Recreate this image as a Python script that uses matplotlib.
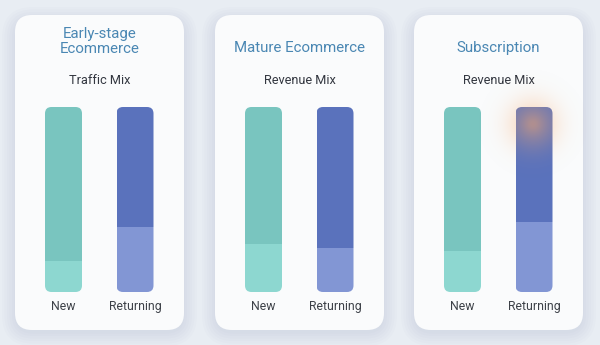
import numpy as np
import matplotlib
matplotlib.use("Agg")
import matplotlib.pyplot as plt
from matplotlib.patches import FancyBboxPatch

# ---- data ----
titles = ["Early-stage\nEcommerce", "Mature Ecommerce", "Subscription"]
subtitles = ["Traffic Mix", "Revenue Mix", "Revenue Mix"]
categories = ["New", "Returning"]
# share of the lighter (lower) segment in each bar, percent
new_lower = [17, 26, 22]
returning_lower = [35, 24, 38]
total = 100

plt.rcParams['font.family'] = ['Roboto', 'DejaVu Sans']

W, H = 600, 345
DPI = 100
fig = plt.figure(figsize=(W / DPI, H / DPI), dpi=DPI)
fig.patch.set_facecolor("#e8edf3")

bg = fig.add_axes([0, 0, 1, 1])
bg.set_xlim(0, W)
bg.set_ylim(H, 0)
bg.axis("off")
bg.patch.set_facecolor("#e8edf3")

card_left = [15, 215, 414]
card_w, card_top, card_h = 169, 15, 315

for cl in card_left:
    # shadow layers
    for i in range(6):
        g = 1.5 + i * 2.5
        sh = FancyBboxPatch((cl - g + 1, card_top - g + 6), card_w + 2 * g - 2, card_h + 2 * g - 4,
                            boxstyle="round,pad=0,rounding_size=%f" % (17 + g),
                            fc="#8896b0", ec="none", alpha=0.028, zorder=1)
        bg.add_patch(sh)
    card = FancyBboxPatch((cl, card_top), card_w, card_h,
                          boxstyle="round,pad=0,rounding_size=17",
                          fc="#fafbfc", ec="none", zorder=2)
    bg.add_patch(card)

title_color = "#4a87b3"
for i, cl in enumerate(card_left):
    cx = cl + card_w / 2
    if "\n" in titles[i]:
        bg.text(cx, 41.5, titles[i], ha="center", va="center", fontsize=10.8,
                color=title_color, linespacing=1.18, zorder=5)
    else:
        bg.text(cx, 48, titles[i], ha="center", va="center", fontsize=10.8,
                color=title_color, zorder=5)
    bg.text(cx, 80, subtitles[i], ha="center", va="center", fontsize=9.2,
            color="#333740", zorder=5)

top_colors = ["#79c5bf", "#5a72bc"]
low_colors = ["#8dd7d0", "#8296d4"]

bar_top_px, bar_bot_px = 107, 292
unit_px = 71.5
bar_w = 37 / unit_px
rs_px = 6.5

for i, cl in enumerate(card_left):
    ax = fig.add_axes([cl / W, (H - bar_bot_px) / H, card_w / W, (bar_bot_px - bar_top_px) / H])
    left_u = -(48.5 / unit_px)
    ax.set_xlim(left_u, left_u + card_w / unit_px)
    ax.set_ylim(0, total)
    ax.axis("off")
    ax.patch.set_alpha(0)
    lowers = [new_lower[i], returning_lower[i]]
    xs = np.arange(len(categories))
    px_per_y = (bar_bot_px - bar_top_px) / total
    aspect = (1 / px_per_y) / (1 / unit_px)
    for j, x in enumerate(xs):
        b1 = ax.bar(x, lowers[j], width=bar_w, color=low_colors[j], zorder=3)
        b2 = ax.bar(x, total - lowers[j], bottom=lowers[j], width=bar_w, color=top_colors[j], zorder=3)
        clip = FancyBboxPatch((x - bar_w / 2, 0), bar_w, total,
                              boxstyle="round,pad=0,rounding_size=%f" % (rs_px / unit_px),
                              mutation_aspect=aspect, fc="none", ec="none",
                              transform=ax.transData)
        ax.add_patch(clip)
        for p in list(b1) + list(b2):
            p.set_clip_path(clip)
        ax.text(x, -8, categories[j], ha="center", va="center", fontsize=8.8,
                color="#3d4148", transform=ax.transData, clip_on=False)

# orange glow highlight on subscription returning bar
ov = fig.add_axes([0, 0, 1, 1])
ov.set_xlim(0, W)
ov.set_ylim(H, 0)
ov.axis("off")
ov.patch.set_alpha(0)
gx, gy, gr = 533, 124, 60
n = 240
yy, xx = np.mgrid[-1:1:n * 1j, -1:1:n * 1j]
rr = np.sqrt(xx ** 2 + yy ** 2)
alpha = np.clip(np.exp(-(rr / 0.42) ** 2) * 0.42 + np.exp(-(rr / 0.15) ** 2) * 0.12, 0, 1)
rgba = np.zeros((n, n, 4))
rgba[..., 0] = 0.98
rgba[..., 1] = 0.66
rgba[..., 2] = 0.42
rgba[..., 3] = alpha
ov.imshow(rgba, extent=[gx - gr, gx + gr, gy + gr, gy - gr], aspect="auto", zorder=10)
ov.set_xlim(0, W)
ov.set_ylim(H, 0)

fig.savefig("out.png", dpi=DPI)
